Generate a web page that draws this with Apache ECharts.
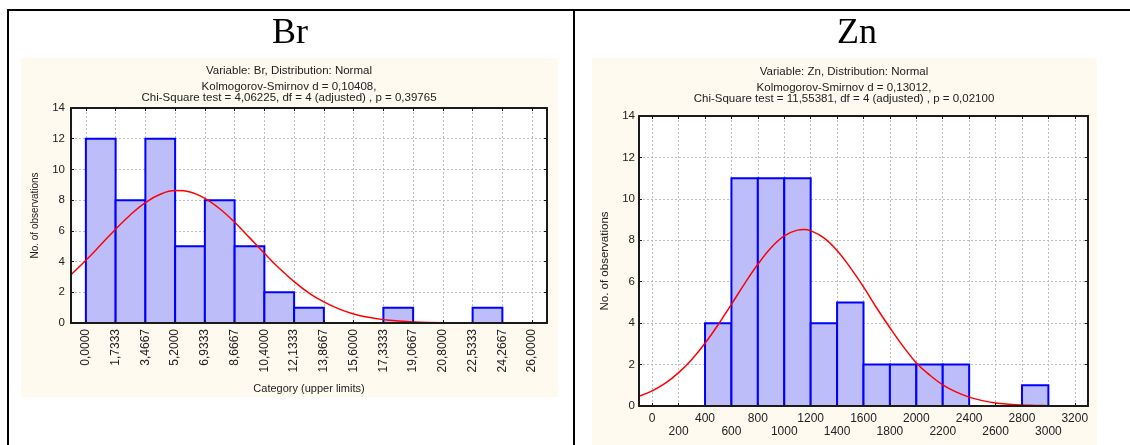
<!DOCTYPE html>
<html>
<head>
<meta charset="utf-8">
<script src="https://cdn.jsdelivr.net/npm/echarts@6/dist/echarts.min.js"></script>
<style>
  html, body { margin: 0; padding: 0; background: #fff; }
  #main { width: 1130px; height: 445px; }
</style>
</head>
<body>
<div id="main"></div>
<script>
// Br: bin edges (upper limits), counts, fitted normal curve
var brEdges = [0, 1.7333, 3.4667, 5.2, 6.9333, 8.6667, 10.4, 12.1333, 13.8667, 15.6, 17.3333, 19.0667, 20.8, 22.5333, 24.2667, 26];
var brTickLabels = ['0,0000', '1,7333', '3,4667', '5,2000', '6,9333', '8,6667', '10,4000', '12,1333', '13,8667', '15,6000', '17,3333', '19,0667', '20,8000', '22,5333', '24,2667', '26,0000'];
var brCounts = [12, 8, 12, 5, 8, 5, 2, 1, 0, 0, 1, 0, 0, 1, 0];
var brCurveX = [-0.8667, 0, 0.8667, 1.7333, 2.6, 3.4667, 4.3333, 5.2, 6.0667, 6.9333, 7.8, 8.6667, 9.5333, 10.4, 11.2667, 12.1333, 13, 13.8667, 14.7333, 15.6, 16.4667, 17.3333, 18.2, 19.0667, 20.8, 22.5333, 24.2667, 26, 26.8667];
var brCurveY = [3.14, 4.08, 5.09, 6.11, 7.05, 7.84, 8.38, 8.62, 8.53, 8.12, 7.44, 6.56, 5.56, 4.54, 3.56, 2.69, 1.95, 1.37, 0.92, 0.59, 0.37, 0.22, 0.13, 0.07, 0.02, 0.01, 0, 0, 0];

// Zn
var znEdges = [0, 200, 400, 600, 800, 1000, 1200, 1400, 1600, 1800, 2000, 2200, 2400, 2600, 2800, 3000, 3200];
var znLabelsRow1 = [0, 400, 800, 1200, 1600, 2000, 2400, 2800, 3200];
var znLabelsRow2 = [200, 600, 1000, 1400, 1800, 2200, 2600, 3000];
var znCounts = [0, 0, 4, 11, 11, 11, 4, 5, 2, 2, 2, 2, 0, 0, 1, 0];
var znCurveX = [-100, 0, 100, 200, 300, 400, 500, 600, 700, 800, 900, 1000, 1100, 1150, 1200, 1300, 1400, 1500, 1600, 1700, 1800, 1900, 2000, 2100, 2200, 2300, 2400, 2500, 2600, 2700, 2800, 2900, 3000, 3100, 3200, 3300];
var znCurveY = [0.47, 0.73, 1.10, 1.61, 2.25, 3.03, 3.93, 4.91, 5.91, 6.84, 7.64, 8.21, 8.49, 8.52, 8.46, 8.12, 7.51, 6.68, 5.75, 4.73, 3.78, 2.88, 2.08, 1.50, 1.02, 0.68, 0.43, 0.26, 0.15, 0.09, 0.05, 0.03, 0.01, 0, 0, 0];

var yMin = 0, yMax = 14, yStep = 2;

var FONT = 'Liberation Sans';

function binData(edges, counts) {
  var out = [];
  for (var i = 0; i < counts.length; i++) {
    if (counts[i] > 0) out.push([edges[i], edges[i + 1], counts[i]]);
  }
  return out;
}

function zip(xs, ys) {
  return xs.map(function (x, i) { return [x, ys[i]]; });
}

function renderBar(params, api) {
  var a = api.coord([api.value(0), api.value(2)]);
  var b = api.coord([api.value(1), 0]);
  return {
    type: 'rect',
    shape: { x: a[0], y: a[1], width: b[0] - a[0], height: b[1] - a[1] },
    style: { fill: '#bdbdfa', stroke: '#0000ff', lineWidth: 2 }
  };
}

var gridLine = { show: true, lineStyle: { color: '#bdbdbd', type: [2, 2], width: 1 } };

// axis that only draws the black frame + inner ticks (kept above the bars)
function frameAxis(grid, pos, min, max, ticks, interval) {
  var ax = {
    type: 'value', gridIndex: grid, position: pos, min: min, max: max, z: 5,
    axisLine: { show: true, onZero: false, lineStyle: { color: '#1a1a1a', width: 2 } },
    axisTick: { show: true, inside: true, length: 3, lineStyle: { color: '#1a1a1a' } },
    axisLabel: { show: false },
    splitLine: { show: false }
  };
  if (ticks) ax.axisTick.customValues = ticks;
  if (interval) ax.interval = interval;
  return ax;
}

// one row of Zn tick labels (labels alternate between two rows)
function znLabelAxis(values, margin, withGrid) {
  return {
    type: 'value', gridIndex: 1, position: 'bottom', offset: 0, min: -100, max: 3300,
    axisLine: { show: false, onZero: false },
    axisTick: { show: false, customValues: withGrid ? znEdges : values },
    axisLabel: { customValues: values, margin: margin, fontFamily: FONT, fontSize: 12, color: '#222',
      showMinLabel: true, showMaxLabel: true,
      formatter: function (v) { return String(v); } },
    splitLine: withGrid ? gridLine : { show: false }
  };
}

var chart = echarts.init(document.getElementById('main'));

var headStyle = { fontFamily: 'Liberation Serif', fontSize: 36, fontWeight: 'normal', color: '#000' };
var noteStyle = { fontFamily: FONT, fontSize: 11.5, lineHeight: 11, fontWeight: 'normal', color: '#222' };

var option = {
  animation: false,
  backgroundColor: '#fff',
  textStyle: { fontFamily: FONT },
  graphic: [
    { type: 'rect', z: -10, shape: { x: 21, y: 58, width: 537, height: 339 }, style: { fill: '#fffaef' } },
    { type: 'rect', z: -10, shape: { x: 592, y: 58, width: 505, height: 387 }, style: { fill: '#fffaef' } },
    { type: 'line', z: 10, shape: { x1: 7, y1: 10, x2: 1130, y2: 10 }, style: { stroke: '#000', lineWidth: 2 } },
    { type: 'line', z: 10, shape: { x1: 8, y1: 9, x2: 8, y2: 445 }, style: { stroke: '#000', lineWidth: 2 } },
    { type: 'line', z: 10, shape: { x1: 574, y1: 9, x2: 574, y2: 445 }, style: { stroke: '#000', lineWidth: 2 } }
  ],
  title: [
    { text: 'Br', left: 290, top: 16, textAlign: 'center', padding: 0, textStyle: headStyle },
    { text: 'Zn', left: 857, top: 16, textAlign: 'center', padding: 0, textStyle: headStyle },
    { text: 'Variable: Br, Distribution: Normal', left: 289, top: 65, textAlign: 'center', padding: 0,
      textStyle: noteStyle },
    { text: 'Kolmogorov-Smirnov d = 0,10408,\nChi-Square test = 4,06225, df = 4 (adjusted) , p = 0,39765',
      left: 289, top: 81, textAlign: 'center', padding: 0, textStyle: noteStyle },
    { text: 'Variable: Zn, Distribution: Normal', left: 844, top: 66, textAlign: 'center', padding: 0,
      textStyle: noteStyle },
    { text: 'Kolmogorov-Smirnov d = 0,13012,\nChi-Square test = 11,55381, df = 4 (adjusted) , p = 0,02100',
      left: 844, top: 82, textAlign: 'center', padding: 0, textStyle: noteStyle }
  ],
  grid: [
    { left: 71, top: 108, width: 476, height: 215, show: true, backgroundColor: '#fff', borderWidth: 0 },
    { left: 639, top: 116, width: 449, height: 290, show: true, backgroundColor: '#fff', borderWidth: 0 }
  ],
  xAxis: [
    // Br main x axis: labels + grid lines
    { type: 'value', gridIndex: 0, min: -0.8667, max: 26.8667,
      name: 'Category (upper limits)', nameLocation: 'middle', nameGap: 60, nameMoveOverlap: false,
      nameTextStyle: { fontFamily: FONT, fontSize: 11, color: '#222' },
      axisLine: { show: false, onZero: false },
      axisTick: { show: false, customValues: brEdges },
      axisLabel: { customValues: brEdges, rotate: 90, margin: 6, fontFamily: FONT, fontSize: 12, color: '#222',
        showMinLabel: true, showMaxLabel: true,
        formatter: function (v) {
          var best = 0;
          for (var i = 0; i < brEdges.length; i++) if (Math.abs(brEdges[i] - v) < Math.abs(brEdges[best] - v)) best = i;
          return brTickLabels[best];
        } },
      splitLine: gridLine },
    frameAxis(0, 'top', -0.8667, 26.8667, brEdges),
    frameAxis(0, 'bottom', -0.8667, 26.8667, brEdges),
    // Zn x axis: grid lines + first label row, second label row, frame
    znLabelAxis(znLabelsRow1, 7, true),
    znLabelAxis(znLabelsRow2, 19.5, false),
    frameAxis(1, 'top', -100, 3300, znEdges),
    frameAxis(1, 'bottom', -100, 3300, znEdges)
  ],
  yAxis: [
    { type: 'value', gridIndex: 0, min: yMin, max: yMax, interval: yStep,
      name: 'No. of observations', nameLocation: 'middle', nameGap: 31, nameMoveOverlap: false,
      nameTextStyle: { fontFamily: FONT, fontSize: 10, color: '#222' },
      axisLine: { show: false, onZero: false }, axisTick: { show: false },
      axisLabel: { margin: 6, fontFamily: FONT, fontSize: 11.5, color: '#222' },
      splitLine: gridLine },
    frameAxis(0, 'left', yMin, yMax, null, yStep),
    frameAxis(0, 'right', yMin, yMax, null, yStep),
    { type: 'value', gridIndex: 1, min: yMin, max: yMax, interval: yStep,
      name: 'No. of observations', nameLocation: 'middle', nameGap: 28, nameMoveOverlap: false,
      nameTextStyle: { fontFamily: FONT, fontSize: 11.5, color: '#222' },
      axisLine: { show: false, onZero: false }, axisTick: { show: false },
      axisLabel: { margin: 4, fontFamily: FONT, fontSize: 11.5, color: '#222' },
      splitLine: gridLine },
    frameAxis(1, 'left', yMin, yMax, null, yStep),
    frameAxis(1, 'right', yMin, yMax, null, yStep)
  ],
  series: [
    { type: 'custom', name: 'Br', xAxisIndex: 0, yAxisIndex: 0, renderItem: renderBar, clip: true,
      encode: { x: [0, 1], y: 2 }, data: binData(brEdges, brCounts), z: 2 },
    { type: 'line', xAxisIndex: 0, yAxisIndex: 0, data: zip(brCurveX, brCurveY), smooth: 0.4,
      showSymbol: false, clip: true, lineStyle: { color: '#ff0000', width: 1.5 }, z: 3 },
    { type: 'custom', name: 'Zn', xAxisIndex: 3, yAxisIndex: 3, renderItem: renderBar, clip: true,
      encode: { x: [0, 1], y: 2 }, data: binData(znEdges, znCounts), z: 2 },
    { type: 'line', xAxisIndex: 3, yAxisIndex: 3, data: zip(znCurveX, znCurveY), smooth: 0.4,
      showSymbol: false, clip: true, lineStyle: { color: '#ff0000', width: 1.5 }, z: 3 }
  ]
};

chart.setOption(option);
</script>
</body>
</html>
